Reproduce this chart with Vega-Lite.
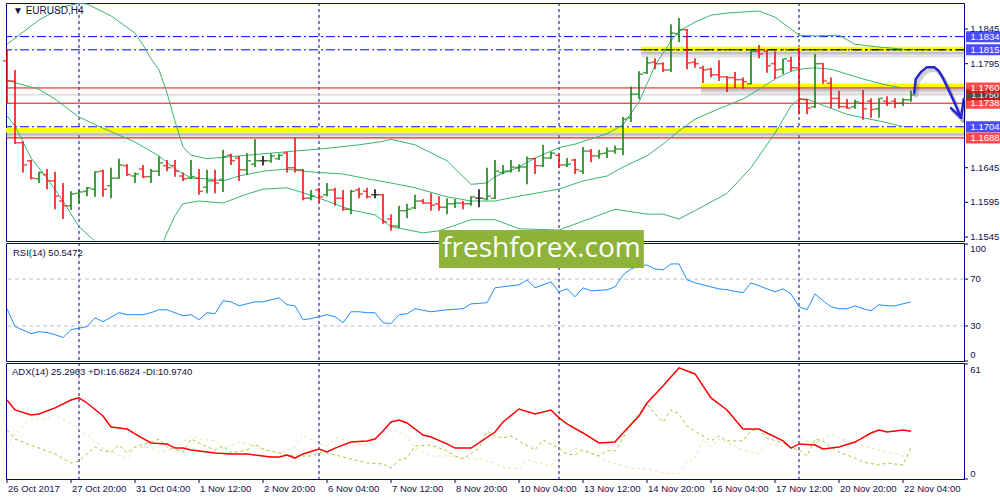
{
"$schema":"https://vega.github.io/schema/vega-lite/v6.json",
"background":"#ffffff",
"padding":{"left":2,"top":2,"right":0,"bottom":0},
"spacing":2,
"bounds":"flush",
"config":{
 "view":{"stroke":"#000080","strokeWidth":1},
 "text":{"font":"Liberation Sans"}
},
"datasets":{
 "seps":[{"i":9},{"i":39},{"i":69},{"i":99}],
 "levels":[{"p":1.1750,"t":"gray"},{"p":1.1834,"t":"blue"},{"p":1.1815,"t":"blue"},{"p":1.1760,"t":"red"},{"p":1.1738,"t":"red"},{"p":1.1704,"t":"blue"},{"p":1.1688,"t":"red"}],
 "bands":[{"p":1.1816,"from":79.25},{"p":1.1763,"from":86.75},{"p":1.1699,"from":-0.125}],
 "blackdash":[{"p":1.1815,"from":79.25}],
 "rsilev":[{"v":30},{"v":70}],
 "pticks":[{"v":1.1545},{"v":1.1595},{"v":1.1645},{"v":1.1795},{"v":1.1845}],
 "rticks":[{"v":0},{"v":30},{"v":70},{"v":100}],
 "aticks":[{"v":0},{"v":61}],
 "xticks":[{"i":0,"lab":"26 Oct 2017"},{"i":8,"lab":"27 Oct 20:00"},{"i":16,"lab":"31 Oct 04:00"},{"i":24,"lab":"1 Nov 12:00"},{"i":32,"lab":"2 Nov 20:00"},{"i":40,"lab":"6 Nov 04:00"},{"i":48,"lab":"7 Nov 12:00"},{"i":56,"lab":"8 Nov 20:00"},{"i":64,"lab":"10 Nov 04:00"},{"i":72,"lab":"13 Nov 12:00"},{"i":80,"lab":"14 Nov 20:00"},{"i":88,"lab":"16 Nov 04:00"},{"i":96,"lab":"17 Nov 12:00"},{"i":104,"lab":"20 Nov 20:00"},{"i":112,"lab":"22 Nov 04:00"}],
 "wm":[{"name":"freshforex.com"}],
 "ptitle":[{"name":"▼ EURUSD,H4"}],
 "rtitle":[{"name":"RSI(14) 50.5472"}],
 "arrow":[
  {"seg":"c","k":0,"i":113.4,"p":1.1753},{"seg":"c","k":1,"i":113.6,"p":1.1773},{"seg":"c","k":2,"i":114.25,"p":1.1783},{"seg":"c","k":3,"i":115,"p":1.1790},{"seg":"c","k":4,"i":115.9,"p":1.1790},{"seg":"c","k":5,"i":116.5,"p":1.1784},{"seg":"c","k":6,"i":117.1,"p":1.1772},{"seg":"c","k":7,"i":117.75,"p":1.1756},{"seg":"c","k":8,"i":118.4,"p":1.1740},{"seg":"c","k":9,"i":119,"p":1.1724},{"seg":"c","k":10,"i":119.25,"p":1.1717},
  {"seg":"h","k":0,"i":118,"p":1.1731},{"seg":"h","k":1,"i":119.25,"p":1.1717},{"seg":"h","k":2,"i":119.6,"p":1.1744}
 ],
 "bars":[
  {"i":0,"o":1.1799,"h":1.1816,"l":1.1737,"c":1.1770},
  {"i":1,"o":1.1770,"h":1.1786,"l":1.1679,"c":1.1681},
  {"i":2,"o":1.1681,"h":1.1683,"l":1.1638,"c":1.1649},
  {"i":3,"o":1.1655,"h":1.1656,"l":1.1628,"c":1.1630},
  {"i":4,"o":1.1629,"h":1.1639,"l":1.1623,"c":1.1638},
  {"i":5,"o":1.1635,"h":1.1643,"l":1.1614,"c":1.1626},
  {"i":6,"o":1.1626,"h":1.1639,"l":1.1585,"c":1.1604},
  {"i":7,"o":1.1597,"h":1.1623,"l":1.1571,"c":1.1590},
  {"i":8,"o":1.1590,"h":1.1611,"l":1.1584,"c":1.1607},
  {"i":9,"o":1.1608,"h":1.1613,"l":1.1593,"c":1.1610},
  {"i":10,"o":1.1611,"h":1.1617,"l":1.1604,"c":1.1616},
  {"i":11,"o":1.1614,"h":1.1640,"l":1.1603,"c":1.1639},
  {"i":12,"o":1.1640,"h":1.1642,"l":1.1603,"c":1.1614},
  {"i":13,"o":1.1619,"h":1.1645,"l":1.1601,"c":1.1630},
  {"i":14,"o":1.1630,"h":1.1658,"l":1.1629,"c":1.1649},
  {"i":15,"o":1.1648,"h":1.1650,"l":1.1633,"c":1.1635},
  {"i":16,"o":1.1633,"h":1.1638,"l":1.1623,"c":1.1636},
  {"i":17,"o":1.1643,"h":1.1649,"l":1.1630,"c":1.1632},
  {"i":18,"o":1.1632,"h":1.1643,"l":1.1623,"c":1.1640},
  {"i":19,"o":1.1640,"h":1.1661,"l":1.1633,"c":1.1652},
  {"i":20,"o":1.1648,"h":1.1656,"l":1.1640,"c":1.1645},
  {"i":21,"o":1.1648,"h":1.1656,"l":1.1632,"c":1.1640},
  {"i":22,"o":1.1633,"h":1.1638,"l":1.1626,"c":1.1629},
  {"i":23,"o":1.1630,"h":1.1656,"l":1.1629,"c":1.1632},
  {"i":24,"o":1.1630,"h":1.1643,"l":1.1606,"c":1.1611},
  {"i":25,"o":1.1617,"h":1.1642,"l":1.1608,"c":1.1626},
  {"i":26,"o":1.1626,"h":1.1642,"l":1.1608,"c":1.1623},
  {"i":27,"o":1.1628,"h":1.1671,"l":1.1610,"c":1.1661},
  {"i":28,"o":1.1663,"h":1.1665,"l":1.1649,"c":1.1655},
  {"i":29,"o":1.1659,"h":1.1662,"l":1.1626,"c":1.1642},
  {"i":30,"o":1.1642,"h":1.1666,"l":1.1635,"c":1.1655},
  {"i":31,"o":1.1650,"h":1.1686,"l":1.1646,"c":1.1655},
  {"i":32,"o":1.1655,"h":1.1662,"l":1.1648,"c":1.1655},
  {"i":33,"o":1.1655,"h":1.1665,"l":1.1652,"c":1.1662},
  {"i":34,"o":1.1658,"h":1.1665,"l":1.1656,"c":1.1663},
  {"i":35,"o":1.1666,"h":1.1668,"l":1.1638,"c":1.1645},
  {"i":36,"o":1.1645,"h":1.1688,"l":1.1638,"c":1.1642},
  {"i":37,"o":1.1642,"h":1.1643,"l":1.1598,"c":1.1601},
  {"i":38,"o":1.1601,"h":1.1613,"l":1.1598,"c":1.1604},
  {"i":39,"o":1.1613,"h":1.1616,"l":1.1594,"c":1.1603},
  {"i":40,"o":1.1606,"h":1.1623,"l":1.1604,"c":1.1613},
  {"i":41,"o":1.1613,"h":1.1616,"l":1.1590,"c":1.1601},
  {"i":42,"o":1.1601,"h":1.1613,"l":1.1583,"c":1.1585},
  {"i":43,"o":1.1585,"h":1.1613,"l":1.1578,"c":1.1611},
  {"i":44,"o":1.1613,"h":1.1616,"l":1.1601,"c":1.1607},
  {"i":45,"o":1.1611,"h":1.1616,"l":1.1601,"c":1.1603},
  {"i":46,"o":1.1606,"h":1.1614,"l":1.1601,"c":1.1606},
  {"i":47,"o":1.1606,"h":1.1607,"l":1.1564,"c":1.1567},
  {"i":48,"o":1.1571,"h":1.1578,"l":1.1554,"c":1.1561},
  {"i":49,"o":1.1561,"h":1.1590,"l":1.1558,"c":1.1583},
  {"i":50,"o":1.1583,"h":1.1593,"l":1.1572,"c":1.1585},
  {"i":51,"o":1.1587,"h":1.1606,"l":1.1585,"c":1.1597},
  {"i":52,"o":1.1597,"h":1.1600,"l":1.1593,"c":1.1594},
  {"i":53,"o":1.1594,"h":1.1608,"l":1.1583,"c":1.1591},
  {"i":54,"o":1.1593,"h":1.1604,"l":1.1583,"c":1.1588},
  {"i":55,"o":1.1588,"h":1.1601,"l":1.1578,"c":1.1593},
  {"i":56,"o":1.1593,"h":1.1600,"l":1.1587,"c":1.1594},
  {"i":57,"o":1.1594,"h":1.1597,"l":1.1585,"c":1.1593},
  {"i":58,"o":1.1593,"h":1.1604,"l":1.1590,"c":1.1603},
  {"i":59,"o":1.1601,"h":1.1614,"l":1.1588,"c":1.1601},
  {"i":60,"o":1.1600,"h":1.1645,"l":1.1598,"c":1.1604},
  {"i":61,"o":1.1601,"h":1.1656,"l":1.1600,"c":1.1640},
  {"i":62,"o":1.1638,"h":1.1649,"l":1.1636,"c":1.1640},
  {"i":63,"o":1.1640,"h":1.1656,"l":1.1638,"c":1.1646},
  {"i":64,"o":1.1645,"h":1.1650,"l":1.1639,"c":1.1646},
  {"i":65,"o":1.1646,"h":1.1661,"l":1.1621,"c":1.1658},
  {"i":66,"o":1.1658,"h":1.1659,"l":1.1636,"c":1.1648},
  {"i":67,"o":1.1648,"h":1.1678,"l":1.1646,"c":1.1659},
  {"i":68,"o":1.1659,"h":1.1668,"l":1.1658,"c":1.1666},
  {"i":69,"o":1.1663,"h":1.1665,"l":1.1645,"c":1.1649},
  {"i":70,"o":1.1649,"h":1.1659,"l":1.1646,"c":1.1650},
  {"i":71,"o":1.1656,"h":1.1658,"l":1.1636,"c":1.1642},
  {"i":72,"o":1.1640,"h":1.1675,"l":1.1636,"c":1.1669},
  {"i":73,"o":1.1669,"h":1.1672,"l":1.1653,"c":1.1662},
  {"i":74,"o":1.1662,"h":1.1671,"l":1.1658,"c":1.1665},
  {"i":75,"o":1.1666,"h":1.1674,"l":1.1659,"c":1.1669},
  {"i":76,"o":1.1669,"h":1.1677,"l":1.1665,"c":1.1672},
  {"i":77,"o":1.1672,"h":1.1718,"l":1.1663,"c":1.1715},
  {"i":78,"o":1.1717,"h":1.1762,"l":1.1711,"c":1.1751},
  {"i":79,"o":1.1751,"h":1.1784,"l":1.1744,"c":1.1780},
  {"i":80,"o":1.1782,"h":1.1805,"l":1.1780,"c":1.1796},
  {"i":81,"o":1.1797,"h":1.1803,"l":1.1787,"c":1.1795},
  {"i":82,"o":1.1795,"h":1.1797,"l":1.1783,"c":1.1786},
  {"i":83,"o":1.1786,"h":1.1852,"l":1.1783,"c":1.1839},
  {"i":84,"o":1.1838,"h":1.1861,"l":1.1826,"c":1.1844},
  {"i":85,"o":1.1844,"h":1.1845,"l":1.1787,"c":1.1796},
  {"i":86,"o":1.1797,"h":1.1803,"l":1.1789,"c":1.1795},
  {"i":87,"o":1.1789,"h":1.1792,"l":1.1767,"c":1.1786},
  {"i":88,"o":1.1787,"h":1.1789,"l":1.1775,"c":1.1779},
  {"i":89,"o":1.1779,"h":1.1800,"l":1.1770,"c":1.1776},
  {"i":90,"o":1.1776,"h":1.1777,"l":1.1754,"c":1.1775},
  {"i":91,"o":1.1775,"h":1.1783,"l":1.1760,"c":1.1772},
  {"i":92,"o":1.1772,"h":1.1775,"l":1.1759,"c":1.1769},
  {"i":93,"o":1.1766,"h":1.1815,"l":1.1765,"c":1.1813},
  {"i":94,"o":1.1813,"h":1.1822,"l":1.1803,"c":1.1809},
  {"i":95,"o":1.1813,"h":1.1815,"l":1.1782,"c":1.1792},
  {"i":96,"o":1.1795,"h":1.1813,"l":1.1773,"c":1.1786},
  {"i":97,"o":1.1787,"h":1.1802,"l":1.1780,"c":1.1802},
  {"i":98,"o":1.1799,"h":1.1805,"l":1.1784,"c":1.1789},
  {"i":99,"o":1.1789,"h":1.1818,"l":1.1722,"c":1.1744},
  {"i":100,"o":1.1743,"h":1.1744,"l":1.1722,"c":1.1731},
  {"i":101,"o":1.1733,"h":1.1809,"l":1.1731,"c":1.1795},
  {"i":102,"o":1.1795,"h":1.1796,"l":1.1766,"c":1.1770},
  {"i":103,"o":1.1767,"h":1.1775,"l":1.1731,"c":1.1745},
  {"i":104,"o":1.1745,"h":1.1756,"l":1.1730,"c":1.1733},
  {"i":105,"o":1.1733,"h":1.1744,"l":1.1730,"c":1.1731},
  {"i":106,"o":1.1733,"h":1.1743,"l":1.1730,"c":1.1740},
  {"i":107,"o":1.1738,"h":1.1757,"l":1.1714,"c":1.1730},
  {"i":108,"o":1.1741,"h":1.1745,"l":1.1717,"c":1.1729},
  {"i":109,"o":1.1730,"h":1.1745,"l":1.1717,"c":1.1745},
  {"i":110,"o":1.1741,"h":1.1748,"l":1.1734,"c":1.1738},
  {"i":111,"o":1.1741,"h":1.1745,"l":1.1731,"c":1.1738},
  {"i":112,"o":1.1738,"h":1.1745,"l":1.1734,"c":1.1743},
  {"i":113,"o":1.1743,"h":1.1756,"l":1.1740,"c":1.1750}
 ],
 "bb":[
  {"b":"u","i":0,"p":1.1823},{"b":"u","i":4,"p":1.1858},{"b":"u","i":7,"p":1.1877},{"b":"u","i":9,"p":1.1882},{"b":"u","i":10,"p":1.1881},{"b":"u","i":13,"p":1.1864},{"b":"u","i":16,"p":1.1839},{"b":"u","i":17,"p":1.1822},{"b":"u","i":18,"p":1.1802},{"b":"u","i":19,"p":1.1786},{"b":"u","i":20,"p":1.1753},{"b":"u","i":21,"p":1.1712},{"b":"u","i":22,"p":1.1675},{"b":"u","i":23,"p":1.1663},{"b":"u","i":25,"p":1.1658},{"b":"u","i":27,"p":1.1660},{"b":"u","i":32,"p":1.1665},{"b":"u","i":36,"p":1.1669},{"b":"u","i":40,"p":1.1673},{"b":"u","i":44,"p":1.1678},{"b":"u","i":47,"p":1.1683},{"b":"u","i":48,"p":1.1686},{"b":"u","i":51,"p":1.1678},{"b":"u","i":55,"p":1.1655},{"b":"u","i":58,"p":1.1621},{"b":"u","i":60,"p":1.1623},{"b":"u","i":61,"p":1.1632},{"b":"u","i":64,"p":1.1646},{"b":"u","i":66,"p":1.1659},{"b":"u","i":68,"p":1.1669},{"b":"u","i":69,"p":1.1674},{"b":"u","i":71,"p":1.1679},{"b":"u","i":75,"p":1.1694},{"b":"u","i":77,"p":1.1707},{"b":"u","i":79,"p":1.1740},{"b":"u","i":81,"p":1.1792},{"b":"u","i":83,"p":1.1828},{"b":"u","i":84,"p":1.1842},{"b":"u","i":86,"p":1.1855},{"b":"u","i":88,"p":1.1865},{"b":"u","i":90,"p":1.1868},{"b":"u","i":94,"p":1.1871},{"b":"u","i":96,"p":1.1862},{"b":"u","i":98,"p":1.1845},{"b":"u","i":99,"p":1.1836},{"b":"u","i":101,"p":1.1835},{"b":"u","i":104,"p":1.1836},{"b":"u","i":106,"p":1.1823},{"b":"u","i":109,"p":1.1819},{"b":"u","i":112,"p":1.1816},
  {"b":"m","i":0,"p":1.1771},{"b":"m","i":4,"p":1.1758},{"b":"m","i":6,"p":1.1744},{"b":"m","i":9,"p":1.1718},{"b":"m","i":12,"p":1.1702},{"b":"m","i":16,"p":1.1682},{"b":"m","i":19,"p":1.1662},{"b":"m","i":21,"p":1.1643},{"b":"m","i":23,"p":1.1630},{"b":"m","i":25,"p":1.1629},{"b":"m","i":27,"p":1.1626},{"b":"m","i":29,"p":1.1633},{"b":"m","i":32,"p":1.1640},{"b":"m","i":35,"p":1.1643},{"b":"m","i":37,"p":1.1640},{"b":"m","i":39,"p":1.1638},{"b":"m","i":42,"p":1.1636},{"b":"m","i":45,"p":1.1629},{"b":"m","i":48,"p":1.1623},{"b":"m","i":51,"p":1.1616},{"b":"m","i":55,"p":1.1603},{"b":"m","i":58,"p":1.1597},{"b":"m","i":61,"p":1.1597},{"b":"m","i":64,"p":1.1604},{"b":"m","i":67,"p":1.1610},{"b":"m","i":69,"p":1.1614},{"b":"m","i":72,"p":1.1626},{"b":"m","i":75,"p":1.1633},{"b":"m","i":77,"p":1.1646},{"b":"m","i":80,"p":1.1662},{"b":"m","i":82,"p":1.1679},{"b":"m","i":84,"p":1.1698},{"b":"m","i":86,"p":1.1715},{"b":"m","i":89,"p":1.1730},{"b":"m","i":92,"p":1.1744},{"b":"m","i":94,"p":1.1758},{"b":"m","i":96,"p":1.1773},{"b":"m","i":98,"p":1.1784},{"b":"m","i":99,"p":1.1787},{"b":"m","i":101,"p":1.1789},{"b":"m","i":103,"p":1.1787},{"b":"m","i":105,"p":1.1780},{"b":"m","i":107,"p":1.1773},{"b":"m","i":110,"p":1.1764},{"b":"m","i":112,"p":1.1760},
  {"b":"l1","i":0,"p":1.1720},{"b":"l1","i":1,"p":1.1705},{"b":"l1","i":3,"p":1.1659},{"b":"l1","i":5,"p":1.1630},{"b":"l1","i":7,"p":1.1597},{"b":"l1","i":9,"p":1.1560},{"b":"l1","i":10.9,"p":1.1540},
  {"b":"l2","i":19.6,"p":1.1540},{"b":"l2","i":20,"p":1.1551},{"b":"l2","i":21,"p":1.1576},{"b":"l2","i":22,"p":1.1593},{"b":"l2","i":24,"p":1.1597},{"b":"l2","i":27,"p":1.1594},{"b":"l2","i":30,"p":1.1607},{"b":"l2","i":32,"p":1.1614},{"b":"l2","i":35,"p":1.1616},{"b":"l2","i":37,"p":1.1609},{"b":"l2","i":40,"p":1.1597},{"b":"l2","i":43,"p":1.1584},{"b":"l2","i":46,"p":1.1577},{"b":"l2","i":48,"p":1.1560},{"b":"l2","i":52,"p":1.1551},{"b":"l2","i":54,"p":1.1554},{"b":"l2","i":58,"p":1.1570},{"b":"l2","i":61,"p":1.1570},{"b":"l2","i":64,"p":1.1557},{"b":"l2","i":69,"p":1.1555},{"b":"l2","i":72,"p":1.1568},{"b":"l2","i":76,"p":1.1585},{"b":"l2","i":80,"p":1.1578},{"b":"l2","i":82,"p":1.1578},{"b":"l2","i":84,"p":1.1571},{"b":"l2","i":86,"p":1.1583},{"b":"l2","i":90,"p":1.1608},{"b":"l2","i":93,"p":1.1645},{"b":"l2","i":96,"p":1.1695},{"b":"l2","i":98,"p":1.1734},{"b":"l2","i":99,"p":1.1744},{"b":"l2","i":100,"p":1.1744},{"b":"l2","i":102,"p":1.1735},{"b":"l2","i":105,"p":1.1722},{"b":"l2","i":107,"p":1.1717},{"b":"l2","i":110,"p":1.1710},{"b":"l2","i":112,"p":1.1704}
 ],
 "rsi":[
  {"i":0,"v":44.7},{"i":1,"v":29.4},{"i":3,"v":23.4},{"i":4,"v":25.1},{"i":5,"v":24.3},{"i":6,"v":22.6},{"i":7,"v":20.0},{"i":8,"v":26.8},{"i":10,"v":29.4},{"i":11,"v":37.0},{"i":12,"v":33.6},{"i":14,"v":41.3},{"i":15,"v":39.6},{"i":17,"v":39.6},{"i":18,"v":41.3},{"i":19,"v":43.8},{"i":20,"v":43.8},{"i":22,"v":38.7},{"i":23,"v":39.6},{"i":24,"v":35.3},{"i":25,"v":41.3},{"i":26,"v":40.4},{"i":27,"v":51.5},{"i":28,"v":50.6},{"i":29,"v":47.2},{"i":31,"v":50.6},{"i":32,"v":50.6},{"i":34,"v":54.0},{"i":35,"v":48.1},{"i":36,"v":47.2},{"i":37,"v":35.3},{"i":38,"v":36.2},{"i":40,"v":39.6},{"i":41,"v":37.9},{"i":42,"v":32.8},{"i":43,"v":42.1},{"i":44,"v":42.1},{"i":45,"v":41.3},{"i":46,"v":41.3},{"i":47,"v":32.8},{"i":48,"v":31.9},{"i":49,"v":39.6},{"i":50,"v":40.4},{"i":51,"v":44.7},{"i":53,"v":42.1},{"i":55,"v":43.8},{"i":57,"v":44.7},{"i":58,"v":48.9},{"i":60,"v":49.8},{"i":61,"v":62.6},{"i":62,"v":63.5},{"i":64,"v":65.1},{"i":65,"v":69.4},{"i":66,"v":62.6},{"i":68,"v":67.7},{"i":69,"v":59.1},{"i":70,"v":61.7},{"i":71,"v":54.9},{"i":72,"v":62.6},{"i":73,"v":60.0},{"i":75,"v":60.9},{"i":76,"v":63.4},{"i":77,"v":73.6},{"i":78,"v":78.7},{"i":79,"v":81.3},{"i":80,"v":82.1},{"i":81,"v":78.7},{"i":82,"v":77.9},{"i":83,"v":83.0},{"i":84,"v":83.0},{"i":85,"v":69.4},{"i":86,"v":66.8},{"i":87,"v":65.1},{"i":89,"v":61.7},{"i":90,"v":60.9},{"i":92,"v":58.3},{"i":93,"v":66.8},{"i":94,"v":64.3},{"i":96,"v":59.1},{"i":97,"v":61.7},{"i":98,"v":57.4},{"i":99,"v":46.4},{"i":100,"v":43.8},{"i":101,"v":57.4},{"i":102,"v":51.5},{"i":103,"v":46.4},{"i":104,"v":44.7},{"i":105,"v":44.7},{"i":106,"v":47.2},{"i":107,"v":44.7},{"i":108,"v":43.0},{"i":109,"v":48.1},{"i":110,"v":47.2},{"i":111,"v":47.2},{"i":112,"v":48.9},{"i":113,"v":50.5}
 ],
 "adx":[
  {"i":0,"v":41.9},{"i":1,"v":36.6},{"i":3,"v":34.0},{"i":4,"v":34.5},{"i":6,"v":37.7},{"i":8,"v":41.9},{"i":9,"v":43.0},{"i":10,"v":40.3},{"i":12,"v":33.4},{"i":13,"v":27.6},{"i":15,"v":26.5},{"i":16,"v":23.9},{"i":18,"v":19.1},{"i":20,"v":18.6},{"i":21,"v":16.4},{"i":22,"v":16.4},{"i":23,"v":15.4},{"i":26,"v":13.8},{"i":28,"v":13.3},{"i":30,"v":13.3},{"i":31,"v":12.7},{"i":33,"v":11.7},{"i":34,"v":11.7},{"i":35,"v":12.7},{"i":36,"v":11.1},{"i":37,"v":13.3},{"i":39,"v":15.9},{"i":40,"v":14.3},{"i":41,"v":16.4},{"i":43,"v":19.6},{"i":45,"v":20.2},{"i":46,"v":21.2},{"i":47,"v":25.5},{"i":48,"v":30.2},{"i":49,"v":31.3},{"i":50,"v":29.7},{"i":52,"v":23.3},{"i":53,"v":22.3},{"i":55,"v":18.6},{"i":56,"v":16.4},{"i":58,"v":16.4},{"i":59,"v":19.1},{"i":61,"v":24.9},{"i":62,"v":30.2},{"i":64,"v":37.1},{"i":66,"v":34.5},{"i":68,"v":36.6},{"i":69,"v":32.4},{"i":70,"v":29.2},{"i":72,"v":24.4},{"i":74,"v":19.1},{"i":76,"v":19.6},{"i":77,"v":24.4},{"i":79,"v":33.4},{"i":80,"v":40.3},{"i":82,"v":49.3},{"i":84,"v":58.9},{"i":86,"v":55.7},{"i":88,"v":43.0},{"i":90,"v":36.6},{"i":92,"v":26.5},{"i":94,"v":26.5},{"i":95,"v":24.4},{"i":97,"v":20.2},{"i":98,"v":16.4},{"i":99,"v":18.6},{"i":101,"v":18.0},{"i":102,"v":15.9},{"i":104,"v":17.0},{"i":106,"v":19.6},{"i":108,"v":24.4},{"i":109,"v":26.0},{"i":110,"v":24.9},{"i":112,"v":26.0},{"i":113,"v":25.3}
 ],
 "pdi":[
  {"i":0,"v":26.0},{"i":1,"v":21.2},{"i":4,"v":16.4},{"i":6,"v":13.3},{"i":8,"v":8.5},{"i":9,"v":9.5},{"i":11,"v":17.0},{"i":12,"v":14.9},{"i":13,"v":14.3},{"i":14,"v":18.0},{"i":15,"v":13.8},{"i":16,"v":17.0},{"i":18,"v":19.6},{"i":19,"v":21.2},{"i":20,"v":17.0},{"i":22,"v":14.3},{"i":23,"v":21.2},{"i":25,"v":17.0},{"i":26,"v":15.4},{"i":27,"v":17.5},{"i":28,"v":13.8},{"i":30,"v":15.4},{"i":31,"v":18.6},{"i":32,"v":15.9},{"i":33,"v":14.9},{"i":35,"v":12.7},{"i":36,"v":12.2},{"i":38,"v":12.2},{"i":39,"v":13.8},{"i":40,"v":13.8},{"i":43,"v":10.6},{"i":45,"v":8.5},{"i":47,"v":8.0},{"i":48,"v":5.8},{"i":49,"v":10.1},{"i":50,"v":11.1},{"i":51,"v":17.5},{"i":53,"v":18.0},{"i":55,"v":14.9},{"i":56,"v":12.2},{"i":57,"v":10.6},{"i":59,"v":16.4},{"i":60,"v":25.5},{"i":61,"v":22.8},{"i":62,"v":21.7},{"i":63,"v":22.8},{"i":64,"v":20.2},{"i":66,"v":15.4},{"i":67,"v":20.7},{"i":69,"v":16.4},{"i":70,"v":13.3},{"i":71,"v":12.7},{"i":72,"v":15.4},{"i":74,"v":12.2},{"i":75,"v":14.9},{"i":76,"v":14.9},{"i":77,"v":21.7},{"i":78,"v":29.7},{"i":79,"v":34.5},{"i":80,"v":39.8},{"i":81,"v":34.5},{"i":82,"v":30.2},{"i":83,"v":36.6},{"i":84,"v":34.5},{"i":85,"v":28.1},{"i":87,"v":22.8},{"i":88,"v":20.2},{"i":89,"v":22.8},{"i":90,"v":20.2},{"i":92,"v":20.2},{"i":93,"v":25.5},{"i":94,"v":26.5},{"i":95,"v":21.7},{"i":97,"v":19.1},{"i":98,"v":16.4},{"i":99,"v":15.4},{"i":100,"v":12.2},{"i":101,"v":21.2},{"i":102,"v":20.2},{"i":103,"v":17.0},{"i":104,"v":14.3},{"i":106,"v":11.1},{"i":107,"v":9.0},{"i":109,"v":7.4},{"i":110,"v":8.5},{"i":112,"v":7.4},{"i":113,"v":16.7}
 ],
 "mdi":[
  {"i":0,"v":17.0},{"i":1,"v":24.4},{"i":3,"v":31.8},{"i":5,"v":31.8},{"i":6,"v":34.5},{"i":8,"v":29.2},{"i":10,"v":23.9},{"i":12,"v":16.4},{"i":14,"v":12.7},{"i":15,"v":10.6},{"i":16,"v":17.0},{"i":18,"v":16.4},{"i":19,"v":13.8},{"i":21,"v":16.4},{"i":23,"v":22.8},{"i":24,"v":21.2},{"i":26,"v":20.2},{"i":27,"v":15.9},{"i":29,"v":19.6},{"i":31,"v":17.5},{"i":32,"v":14.9},{"i":34,"v":13.3},{"i":36,"v":17.0},{"i":37,"v":23.3},{"i":39,"v":18.6},{"i":40,"v":17.5},{"i":41,"v":21.7},{"i":43,"v":20.2},{"i":44,"v":18.0},{"i":46,"v":18.6},{"i":48,"v":26.5},{"i":50,"v":22.8},{"i":51,"v":16.4},{"i":53,"v":12.2},{"i":56,"v":12.2},{"i":57,"v":11.1},{"i":59,"v":10.6},{"i":61,"v":8.5},{"i":62,"v":6.4},{"i":64,"v":5.3},{"i":65,"v":10.1},{"i":67,"v":8.0},{"i":68,"v":6.9},{"i":69,"v":12.2},{"i":70,"v":13.8},{"i":71,"v":16.4},{"i":73,"v":13.8},{"i":75,"v":9.5},{"i":78,"v":5.8},{"i":80,"v":5.3},{"i":82,"v":3.2},{"i":84,"v":2.7},{"i":85,"v":9.5},{"i":86,"v":11.1},{"i":87,"v":21.2},{"i":88,"v":17.0},{"i":89,"v":21.2},{"i":91,"v":17.5},{"i":92,"v":15.4},{"i":94,"v":13.3},{"i":95,"v":19.1},{"i":97,"v":17.0},{"i":99,"v":22.8},{"i":100,"v":20.2},{"i":101,"v":18.6},{"i":103,"v":23.9},{"i":104,"v":21.7},{"i":106,"v":19.1},{"i":108,"v":16.4},{"i":110,"v":14.3},{"i":112,"v":12.2},{"i":113,"v":11.0}
 ]
},
"vconcat":[
 {
  "width":958,"height":238,
  "layer":[
   {"data":{"name":"seps"},"mark":{"type":"rule","color":"#000080","strokeDash":[3,3],"strokeWidth":1},
    "encoding":{"x":{"field":"i","type":"quantitative","scale":{"domain":[-0.125,119.625],"nice":false,"zero":false},"axis":null}}},
   {"data":{"name":"levels"},"transform":[{"filter":"datum.t==='gray'"}],"mark":{"type":"rule","color":"#c8c8c8","strokeWidth":1},
    "encoding":{"y":{"field":"p","type":"quantitative","scale":{"domain":[1.15393,1.18825],"nice":false,"zero":false},"axis":null}}},
   {"data":{"name":"bands"},"mark":{"type":"rule","color":"#777777","opacity":0.45,"strokeWidth":3,"yOffset":4},
    "encoding":{"x":{"field":"from","type":"quantitative","axis":null},"x2":{"datum":119.625},
     "y":{"field":"p","type":"quantitative","axis":null}}},
   {"data":{"name":"bands"},"mark":{"type":"rule","color":"#777777","opacity":0.2,"strokeWidth":3,"yOffset":7},
    "encoding":{"x":{"field":"from","type":"quantitative","axis":null},"x2":{"datum":119.625},
     "y":{"field":"p","type":"quantitative","axis":null}}},
   {"data":{"name":"bands"},"mark":{"type":"rule","color":"#ffff00","strokeWidth":4.5},
    "encoding":{"x":{"field":"from","type":"quantitative","axis":null},"x2":{"datum":119.625},
     "y":{"field":"p","type":"quantitative","axis":null}}},
   {"data":{"name":"levels"},"transform":[{"filter":"datum.t==='red'"}],"mark":{"type":"rule","color":"#ff0000","strokeWidth":1},
    "encoding":{"y":{"field":"p","type":"quantitative","axis":null}}},
   {"data":{"name":"levels"},"transform":[{"filter":"datum.t==='blue'"}],"mark":{"type":"rule","color":"#0000ff","strokeWidth":1,"strokeDash":[9,3,2,3]},
    "encoding":{"y":{"field":"p","type":"quantitative","axis":null}}},
   {"data":{"name":"blackdash"},"mark":{"type":"rule","color":"#000000","strokeWidth":1,"strokeDash":[10,4,3,4]},
    "encoding":{"x":{"field":"from","type":"quantitative","axis":null},"x2":{"datum":119.625},
     "y":{"field":"p","type":"quantitative","axis":null}}},
   {"data":{"name":"bb"},"mark":{"type":"line","color":"#3cb371","strokeWidth":1,"clip":true},
    "encoding":{"x":{"field":"i","type":"quantitative","axis":null},
     "y":{"field":"p","type":"quantitative","axis":null},
     "detail":{"field":"b","type":"nominal"}}},
   {"data":{"name":"bars"},"mark":{"type":"rule","strokeWidth":1.5},
    "encoding":{"x":{"field":"i","type":"quantitative","axis":null},
     "y":{"field":"l","type":"quantitative","axis":null},"y2":{"field":"h"},
     "color":{"condition":[{"test":"datum.c > datum.o","value":"#008000"},{"test":"datum.c < datum.o","value":"#ff0000"}],"value":"#000000"}}},
   {"data":{"name":"bars"},"mark":{"type":"tick","orient":"horizontal","size":3.5,"thickness":1.5,"xOffset":-2.2},
    "encoding":{"x":{"field":"i","type":"quantitative","axis":null},
     "y":{"field":"o","type":"quantitative","axis":null},
     "color":{"condition":[{"test":"datum.c > datum.o","value":"#008000"},{"test":"datum.c < datum.o","value":"#ff0000"}],"value":"#000000"}}},
   {"data":{"name":"bars"},"mark":{"type":"tick","orient":"horizontal","size":3.5,"thickness":1.5,"xOffset":2.2},
    "encoding":{"x":{"field":"i","type":"quantitative","axis":null},
     "y":{"field":"c","type":"quantitative","axis":null},
     "color":{"condition":[{"test":"datum.c > datum.o","value":"#008000"},{"test":"datum.c < datum.o","value":"#ff0000"}],"value":"#000000"}}},
   {"data":{"name":"arrow"},"mark":{"type":"line","color":"#000000","opacity":0.18,"strokeWidth":4,"xOffset":2,"yOffset":3,"strokeCap":"round","strokeJoin":"round"},
    "encoding":{"x":{"field":"i","type":"quantitative","axis":null},
     "y":{"field":"p","type":"quantitative","axis":null},
     "detail":{"field":"seg","type":"nominal"},"order":{"field":"k","type":"quantitative"}}},
   {"data":{"name":"arrow"},"mark":{"type":"line","color":"#2424d6","strokeWidth":2.5,"strokeCap":"round","strokeJoin":"round"},
    "encoding":{"x":{"field":"i","type":"quantitative","axis":null},
     "y":{"field":"p","type":"quantitative","axis":null},
     "detail":{"field":"seg","type":"nominal"},"order":{"field":"k","type":"quantitative"}}},
   {"data":{"name":"pticks"},"mark":{"type":"rule","color":"#000080","strokeWidth":1},
    "encoding":{"x":{"datum":119.625,"type":"quantitative","axis":null},"x2":{"datum":120.125},"y":{"field":"v","type":"quantitative","axis":null}}},
   {"data":{"name":"pticks"},"mark":{"type":"text","color":"#101048","fontSize":9.5,"align":"left","baseline":"middle"},
    "encoding":{"x":{"datum":120.4,"type":"quantitative","axis":null},"y":{"field":"v","type":"quantitative","axis":null},
     "text":{"field":"v","type":"quantitative","format":".4f"}}},
   {"data":{"name":"levels"},"transform":[{"filter":"datum.t==='gray'"}],"mark":{"type":"tick","orient":"horizontal","size":38,"thickness":11,"color":"#000000"},
    "encoding":{"x":{"datum":122.25,"type":"quantitative","axis":null},"y":{"field":"p","type":"quantitative","axis":null}}},
   {"data":{"name":"levels"},"transform":[{"filter":"datum.t==='gray'"}],"mark":{"type":"text","color":"#ffffff","fontSize":9,"align":"center","baseline":"middle"},
    "encoding":{"x":{"datum":122.25,"type":"quantitative","axis":null},"y":{"field":"p","type":"quantitative","axis":null},
     "text":{"field":"p","type":"quantitative","format":".4f"}}},
   {"data":{"name":"levels"},"transform":[{"filter":"datum.t!=='gray'"}],"mark":{"type":"tick","orient":"horizontal","size":38,"thickness":11},
    "encoding":{"x":{"datum":122.25,"type":"quantitative","axis":null},"y":{"field":"p","type":"quantitative","axis":null},
     "color":{"field":"t","type":"nominal","scale":{"domain":["blue","red"],"range":["#0000ff","#ff0000"]},"legend":null}}},
   {"data":{"name":"levels"},"transform":[{"filter":"datum.t!=='gray'"}],"mark":{"type":"text","color":"#ffffff","fontSize":9.5,"align":"center","baseline":"middle"},
    "encoding":{"x":{"datum":122.25,"type":"quantitative","axis":null},"y":{"field":"p","type":"quantitative","axis":null},
     "text":{"field":"p","type":"quantitative","format":".4f"}}},
   {"data":{"name":"ptitle"},"mark":{"type":"text","color":"#101048","fontSize":10,"align":"left","baseline":"middle"},
    "encoding":{"x":{"datum":0.75,"type":"quantitative","axis":null},"y":{"datum":1.1871,"type":"quantitative","axis":null},"text":{"field":"name","type":"nominal"}}}
  ]
 },
 {
  "width":958,"height":118,
  "layer":[
   {"data":{"name":"seps"},"mark":{"type":"rule","color":"#000080","strokeDash":[3,3],"strokeWidth":1},
    "encoding":{"x":{"field":"i","type":"quantitative","scale":{"domain":[-0.125,119.625],"nice":false,"zero":false},"axis":null}}},
   {"data":{"name":"rsilev"},"mark":{"type":"rule","color":"#c0c0c0","strokeDash":[4,3],"strokeWidth":1},
    "encoding":{"y":{"field":"v","type":"quantitative","scale":{"domain":[0,100.9],"nice":false,"zero":false},"axis":null}}},
   {"data":{"name":"rsi"},"mark":{"type":"line","color":"#1e90ff","strokeWidth":1},
    "encoding":{"x":{"field":"i","type":"quantitative","axis":null},
     "y":{"field":"v","type":"quantitative","axis":null}}},
   {"data":{"name":"rticks"},"mark":{"type":"rule","color":"#000080","strokeWidth":1},
    "encoding":{"x":{"datum":119.625,"type":"quantitative","axis":null},"x2":{"datum":120.125},"y":{"field":"v","type":"quantitative","axis":null}}},
   {"data":{"name":"rticks"},"transform":[{"filter":"datum.v==100"}],"mark":{"type":"text","color":"#101048","fontSize":9.5,"align":"left","baseline":"top"},
    "encoding":{"x":{"datum":120.4,"type":"quantitative","axis":null},"y":{"field":"v","type":"quantitative","axis":null},"text":{"field":"v","type":"quantitative"}}},
   {"data":{"name":"rticks"},"transform":[{"filter":"datum.v==30 || datum.v==70"}],"mark":{"type":"text","color":"#101048","fontSize":9.5,"align":"left","baseline":"middle"},
    "encoding":{"x":{"datum":120.4,"type":"quantitative","axis":null},"y":{"field":"v","type":"quantitative","axis":null},"text":{"field":"v","type":"quantitative"}}},
   {"data":{"name":"rticks"},"transform":[{"filter":"datum.v==0"}],"mark":{"type":"text","color":"#101048","fontSize":9.5,"align":"left","baseline":"bottom","dy":-1},
    "encoding":{"x":{"datum":120.4,"type":"quantitative","axis":null},"y":{"field":"v","type":"quantitative","axis":null},"text":{"field":"v","type":"quantitative"}}},
   {"data":{"name":"rtitle"},"mark":{"type":"text","color":"#101048","fontSize":9.5,"align":"left","baseline":"middle"},
    "encoding":{"x":{"datum":0.75,"type":"quantitative","axis":null},"y":{"datum":92.3,"type":"quantitative","axis":null},"text":{"field":"name","type":"nominal"}}},
   {"data":{"name":"wm"},"mark":{"type":"rect","color":"#8db33a"},
    "encoding":{"x":{"datum":54,"type":"quantitative","axis":null},"x2":{"datum":79.6},"y":{"datum":112,"type":"quantitative","axis":null},"y2":{"datum":79.6}}},
   {"data":{"name":"wm"},"mark":{"type":"text","color":"#ffffff","font":"Open Sans","fontSize":28,"align":"center","baseline":"middle"},
    "encoding":{"x":{"datum":66.8,"type":"quantitative","axis":null},"y":{"datum":95.6,"type":"quantitative","axis":null},"text":{"field":"name","type":"nominal"}}}
  ]
 },
 {
  "width":958,"height":116,
  "title":{"text":"ADX(14) 25.2963 +DI:16.6824 -DI:10.9740","anchor":"start","frame":"group","offset":-14,"dx":6,"fontSize":9.5,"fontWeight":"normal","font":"Liberation Sans","color":"#101048"},
  "layer":[
   {"data":{"name":"seps"},"mark":{"type":"rule","color":"#000080","strokeDash":[3,3],"strokeWidth":1},
    "encoding":{"x":{"field":"i","type":"quantitative","scale":{"domain":[-0.125,119.625],"nice":false,"zero":false},"axis":null}}},
   {"data":{"name":"mdi"},"mark":{"type":"line","color":"#f5deb3","strokeWidth":1,"strokeDash":[3,3]},
    "encoding":{"x":{"field":"i","type":"quantitative","axis":null},
     "y":{"field":"v","type":"quantitative","scale":{"domain":[0,61.5],"nice":false,"zero":false},"axis":null}}},
   {"data":{"name":"pdi"},"mark":{"type":"line","color":"#9acd32","strokeWidth":1,"strokeDash":[3,3]},
    "encoding":{"x":{"field":"i","type":"quantitative","axis":null},
     "y":{"field":"v","type":"quantitative","axis":null}}},
   {"data":{"name":"adx"},"mark":{"type":"line","color":"#ff0000","strokeWidth":1.5},
    "encoding":{"x":{"field":"i","type":"quantitative","axis":null},
     "y":{"field":"v","type":"quantitative","axis":null}}},
   {"data":{"name":"aticks"},"mark":{"type":"rule","color":"#000080","strokeWidth":1},
    "encoding":{"x":{"datum":119.625,"type":"quantitative","axis":null},"x2":{"datum":120.125},"y":{"field":"v","type":"quantitative","axis":null}}},
   {"data":{"name":"aticks"},"transform":[{"filter":"datum.v==61"}],"mark":{"type":"text","color":"#101048","fontSize":9.5,"align":"left","baseline":"top","dy":1},
    "encoding":{"x":{"datum":120.4,"type":"quantitative","axis":null},"y":{"field":"v","type":"quantitative","axis":null},"text":{"field":"v","type":"quantitative"}}},
   {"data":{"name":"aticks"},"transform":[{"filter":"datum.v==0"}],"mark":{"type":"text","color":"#101048","fontSize":9.5,"align":"left","baseline":"bottom"},
    "encoding":{"x":{"datum":120.4,"type":"quantitative","axis":null},"y":{"field":"v","type":"quantitative","axis":null},"text":{"field":"v","type":"quantitative"}}},
   {"data":{"name":"xticks"},"mark":{"type":"rule","color":"#000080","strokeWidth":1},
    "encoding":{"x":{"field":"i","type":"quantitative","axis":null},"y":{"datum":0,"type":"quantitative","axis":null},"y2":{"datum":-2.1}}},
   {"data":{"name":"xticks"},"mark":{"type":"text","color":"#101048","fontSize":9.5,"align":"left","baseline":"middle","dx":1},
    "encoding":{"x":{"field":"i","type":"quantitative","axis":null},"y":{"datum":-5.3,"type":"quantitative","axis":null},"text":{"field":"lab","type":"nominal"}}}
  ]
 }
]
}
